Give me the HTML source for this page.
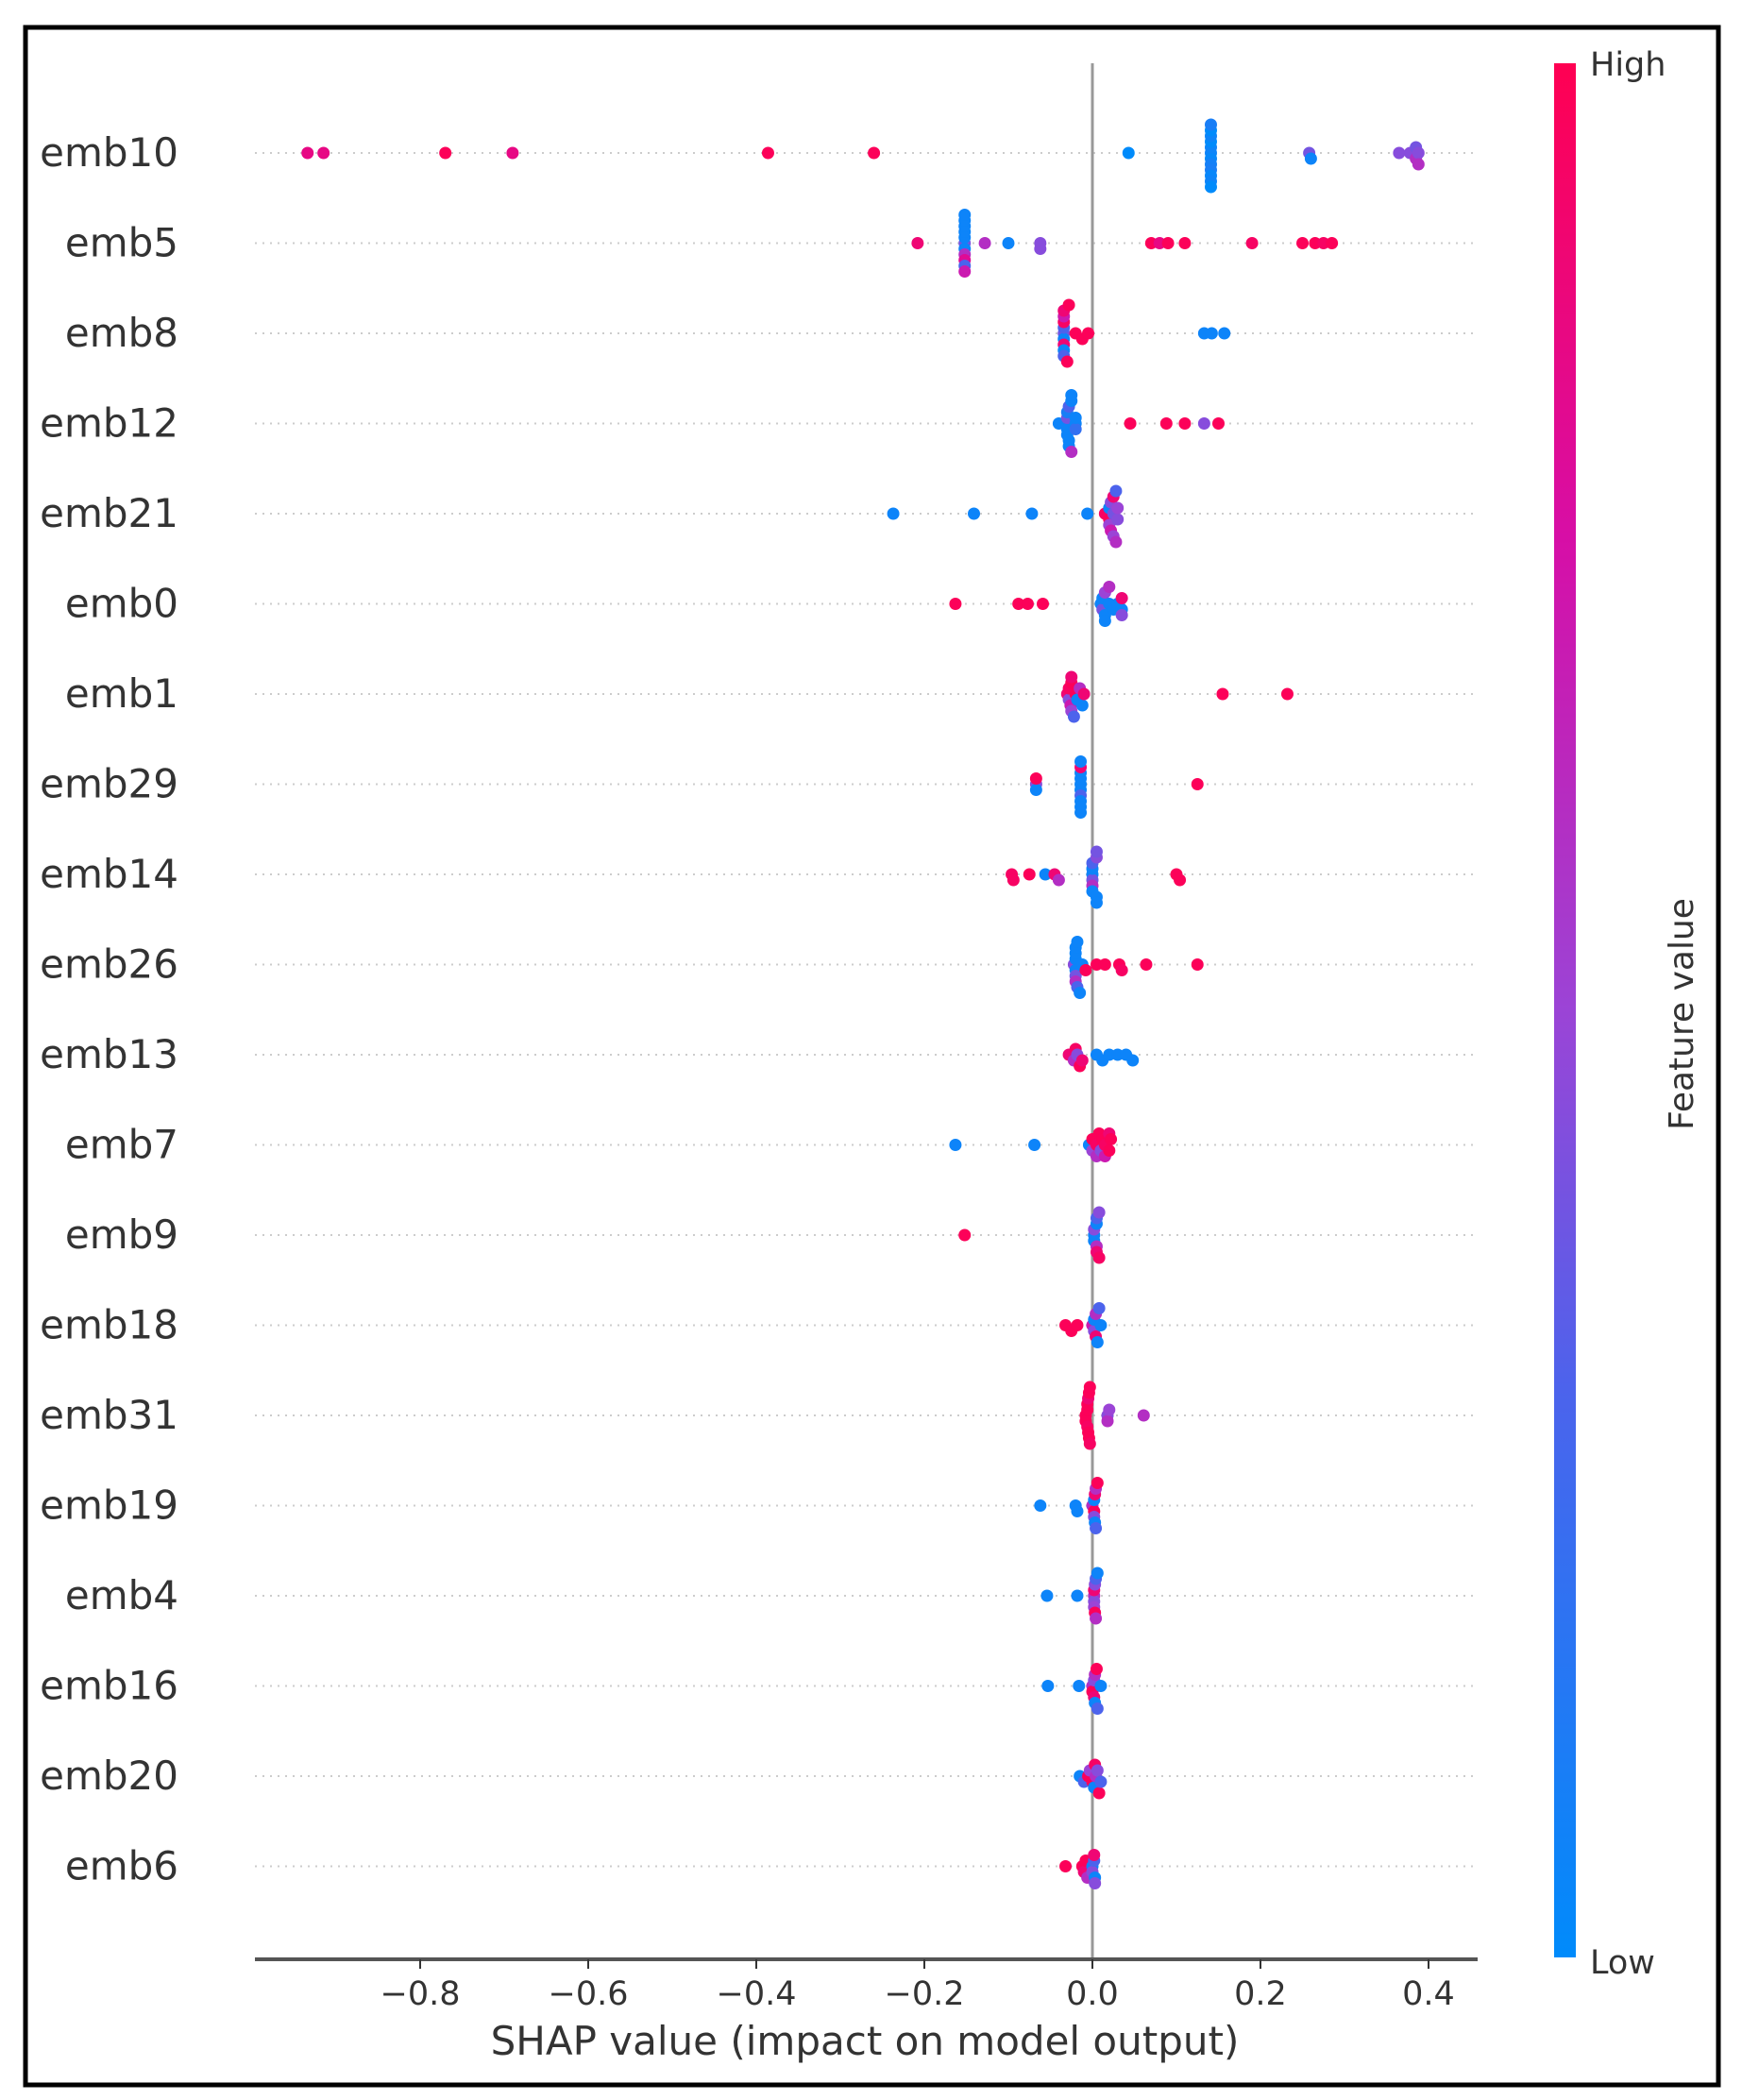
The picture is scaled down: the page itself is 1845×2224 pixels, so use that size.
<!DOCTYPE html>
<html><head><meta charset="utf-8"><style>
html,body{margin:0;padding:0;background:#fff;}
svg{display:block;font-family:"DejaVu Sans","Liberation Sans",sans-serif;}
</style></head><body>
<svg id="chart" width="1845" height="2224" viewBox="0 0 1845 2224" xmlns="http://www.w3.org/2000/svg">
<defs><linearGradient id="cb" x1="0" y1="1" x2="0" y2="0">
<stop offset="0" stop-color="#008bfb"/><stop offset="0.3" stop-color="#4c63ec"/><stop offset="0.5" stop-color="#9b44d6"/><stop offset="0.75" stop-color="#d70ea6"/><stop offset="1" stop-color="#ff0052"/></linearGradient></defs>
<rect x="27" y="29" width="1793" height="2179" fill="none" stroke="#000" stroke-width="5"/>
<g id="grid"></g><g id="zero"></g><g id="dots"></g><g id="labels"></g><g id="axis"></g>
<rect x="1646" y="67" width="23" height="2006" fill="url(#cb)"/>
<text x="1684" y="80" font-size="35" fill="#333">High</text>
<text x="1684" y="2090" font-size="35" fill="#333">Low</text>
<text transform="translate(1793,1074) rotate(-90)" text-anchor="middle" font-size="36" fill="#333">Feature value</text>
<text x="916" y="2176" text-anchor="middle" font-size="42" fill="#333">SHAP value (impact on model output)</text>
</svg>
<script>
const features = ["emb10","emb5","emb8","emb12","emb21","emb0","emb1","emb29","emb14","emb26","emb13","emb7","emb9","emb18","emb31","emb19","emb4","emb16","emb20","emb6"];
const shapVals = [
 [-0.934,-0.915,-0.77,-0.69,-0.386,-0.26,0.043,0.141,0.141,0.141,0.141,0.141,0.141,0.141,0.141,0.141,0.141,0.141,0.141,0.258,0.26,0.365,0.378,0.385,0.385,0.388,0.388],
 [-0.208,-0.152,-0.152,-0.152,-0.152,-0.152,-0.152,-0.152,-0.152,-0.152,-0.152,-0.152,-0.128,-0.10,-0.062,-0.062,0.07,0.08,0.09,0.11,0.19,0.25,0.265,0.275,0.285],
 [-0.034,-0.034,-0.034,-0.034,-0.034,-0.034,-0.034,-0.034,-0.034,-0.030,-0.028,-0.020,-0.012,-0.005,0.133,0.142,0.157],
 [-0.04,-0.03,-0.03,-0.03,-0.03,-0.03,-0.028,-0.028,-0.028,-0.025,-0.025,-0.025,-0.02,-0.02,-0.02,0.045,0.088,0.11,0.133,0.15],
 [-0.237,-0.141,-0.072,-0.006,0.015,0.02,0.02,0.02,0.022,0.022,0.025,0.025,0.025,0.028,0.028,0.03,0.03],
 [-0.163,-0.088,-0.077,-0.059,0.01,0.012,0.012,0.015,0.015,0.015,0.02,0.02,0.025,0.03,0.035,0.035,0.035],
 [-0.03,-0.028,-0.028,-0.026,-0.025,-0.025,-0.025,-0.022,-0.02,-0.018,-0.015,-0.012,-0.01,0.155,0.232],
 [-0.067,-0.067,-0.067,-0.014,-0.014,-0.014,-0.014,-0.014,-0.014,-0.014,-0.014,-0.014,-0.014,0.125],
 [-0.096,-0.094,-0.075,-0.056,-0.045,-0.04,0,0,0,0,0,0,0.005,0.005,0.005,0.005,0.1,0.104],
 [-0.022,-0.02,-0.02,-0.02,-0.02,-0.02,-0.02,-0.018,-0.018,-0.015,-0.012,-0.008,0.005,0.015,0.032,0.035,0.064,0.125],
 [-0.028,-0.022,-0.02,-0.018,-0.015,-0.012,0.005,0.012,0.02,0.03,0.04,0.048],
 [-0.163,-0.069,-0.004,0,0,0.005,0.005,0.008,0.01,0.012,0.015,0.015,0.02,0.02,0.022],
 [-0.152,0.002,0.002,0.002,0.005,0.005,0.005,0.005,0.008,0.008],
 [-0.032,-0.025,-0.018,0.0,0.002,0.002,0.004,0.004,0.006,0.008,0.01],
 [-0.008,-0.008,-0.006,-0.006,-0.006,-0.005,-0.005,-0.004,-0.004,-0.003,-0.003,0.018,0.018,0.02,0.061],
 [-0.062,-0.02,-0.018,0.0,0.002,0.002,0.002,0.003,0.003,0.004,0.004,0.006],
 [-0.054,-0.018,0.002,0.002,0.002,0.002,0.003,0.003,0.004,0.004,0.006],
 [-0.053,-0.016,0.0,0.0,0.002,0.002,0.003,0.003,0.005,0.006,0.01],
 [-0.015,-0.01,-0.005,-0.003,0.0,0.002,0.003,0.004,0.006,0.008,0.01],
 [-0.032,-0.012,-0.01,-0.008,-0.006,0.0,0.0,0.002,0.002,0.003,0.003]
];
const featVals = [
 [0.85,0.85,0.98,0.85,0.98,0.98,0.0,0.05,0.02,0.05,0.08,0.0,0.1,0.05,0.03,0.0,0.05,0.1,0.0,0.4,0.05,0.45,0.45,0.6,0.4,0.45,0.6],
 [0.9,0.4,0.05,0.05,0.6,0.05,0.8,0.05,0.3,0.05,0.7,0.05,0.6,0.05,0.45,0.45,0.98,0.85,0.98,0.98,0.95,0.98,0.98,0.95,0.98],
 [0.4,0.05,0.3,0.9,0.95,0.05,0.7,0.3,0.9,0.98,0.98,0.98,0.98,0.98,0.05,0.05,0.05],
 [0.05,0.05,0.05,0.4,0.05,0.1,0.05,0.3,0.05,0.05,0.6,0.05,0.05,0.2,0.05,0.98,0.98,0.98,0.45,0.98],
 [0.05,0.05,0.05,0.05,0.95,0.98,0.05,0.5,0.45,0.7,0.4,0.9,0.5,0.3,0.6,0.45,0.5],
 [0.98,0.98,0.98,0.98,0.05,0.4,0.05,0.05,0.5,0.05,0.05,0.6,0.05,0.05,0.05,0.9,0.45],
 [0.9,0.45,0.95,0.7,0.98,0.5,0.9,0.3,0.98,0.05,0.6,0.05,0.9,0.98,0.98],
 [0.45,0.05,0.98,0.05,0.05,0.05,0.3,0.05,0.05,0.9,0.05,0.05,0.05,0.98],
 [0.95,0.95,0.98,0.05,0.9,0.6,0.05,0.4,0.05,0.6,0.3,0.05,0.45,0.05,0.4,0.05,0.98,0.98],
 [0.45,0.05,0.05,0.4,0.05,0.6,0.05,0.3,0.05,0.05,0.05,0.98,0.98,0.98,0.98,0.95,0.98,0.98],
 [0.9,0.6,0.95,0.45,0.98,0.9,0.05,0.05,0.05,0.05,0.05,0.05],
 [0.05,0.05,0.05,0.5,0.98,0.95,0.6,0.98,0.45,0.98,0.95,0.7,0.98,0.9,0.98],
 [0.98,0.05,0.05,0.45,0.6,0.05,0.9,0.3,0.95,0.45],
 [0.98,0.98,0.98,0.7,0.45,0.05,0.9,0.6,0.05,0.3,0.05],
 [0.98,0.98,0.98,0.95,0.98,0.98,0.9,0.98,0.98,0.95,0.98,0.45,0.6,0.5,0.6],
 [0.05,0.05,0.05,0.6,0.98,0.05,0.45,0.9,0.05,0.6,0.3,0.98],
 [0.05,0.05,0.6,0.45,0.9,0.5,0.45,0.98,0.3,0.6,0.05],
 [0.05,0.05,0.6,0.98,0.45,0.9,0.6,0.05,0.98,0.3,0.05],
 [0.05,0.3,0.98,0.5,0.98,0.05,0.95,0.6,0.45,0.98,0.3],
 [0.98,0.98,0.9,0.98,0.6,0.05,0.45,0.3,0.9,0.05,0.45]
];
const tickVals = [-0.8,-0.6,-0.4,-0.2,0.0,0.2,0.4];
const tickLabels = ["\u22120.8","\u22120.6","\u22120.4","\u22120.2","0.0","0.2","0.4"];

const NS="http://www.w3.org/2000/svg";
const X0=1157, XS=890, AXL=270, AXR=1565, AXY=2075;
const xScale=v=>X0+v*XS;
const yScale=i=>162+i*95.5;
function mk(tag,attrs,parent){const e=document.createElementNS(NS,tag);for(const k in attrs)e.setAttribute(k,attrs[k]);parent.appendChild(e);return e;}
const stops=[[0,[0,139,251]],[0.3,[76,99,236]],[0.5,[155,68,214]],[0.75,[215,14,166]],[1,[255,0,82]]];
function color(t){for(let i=1;i<stops.length;i++){if(t<=stops[i][0]){const a=stops[i-1],b=stops[i],f=(t-a[0])/(b[0]-a[0]);const c=a[1].map((v,k)=>Math.round(v+(b[1][k]-v)*f));return `rgb(${c})`;}}return 'rgb(255,0,82)';}
const gG=document.getElementById('grid'),gD=document.getElementById('dots'),gL=document.getElementById('labels'),gA=document.getElementById('axis'),gZ=document.getElementById('zero');
features.forEach((f,i)=>{
 const y=yScale(i);
 const gl=mk('line',{x1:AXL,x2:AXR,y1:y,y2:y,stroke:'#ccc','stroke-width':2,'stroke-dasharray':'2,6'},gG);
 
 
 const t=mk('text',{x:189,y:y+14,'text-anchor':'end','font-size':42,fill:'#333'},gL);
 t.textContent=f;
 
 
 const pts=shapVals[i].map((v,k)=>({x:xScale(v),c:featVals[i][k]})).sort((a,b)=>a.x-b.x);
 const placed=[];
 pts.forEach(p=>{
  let off=0;
  for(let n=0;n<60;n++){
   const cand=n===0?0:(n%2?1:-1)*Math.ceil(n/2)*6;
   if(!placed.some(q=>Math.abs(q.x-p.x)<8&&Math.abs(q.o-cand)<6)){off=cand;break;}
  }
  p.o=off;placed.push(p);
  const d=mk('circle',{cx:p.x,cy:y+off,r:6.5,fill:color(p.c)},gD);
  
  
 });
});
const z=mk('line',{x1:X0,x2:X0,y1:67,y2:AXY,stroke:'#999','stroke-width':3},gZ);


const ax=mk('line',{x1:AXL,x2:AXR,y1:AXY,y2:AXY,stroke:'#555','stroke-width':4},gA);


tickVals.forEach((v,k)=>{
 const x=xScale(v);
 const tk=mk('line',{x1:x,x2:x,y1:AXY,y2:AXY+10,stroke:'#333','stroke-width':2},gA);
 
 
 const tl=mk('text',{x:x,y:AXY+48,'text-anchor':'middle','font-size':35,fill:'#333'},gA);
 tl.textContent=tickLabels[k];
 
 
});
</script>
</body></html>
